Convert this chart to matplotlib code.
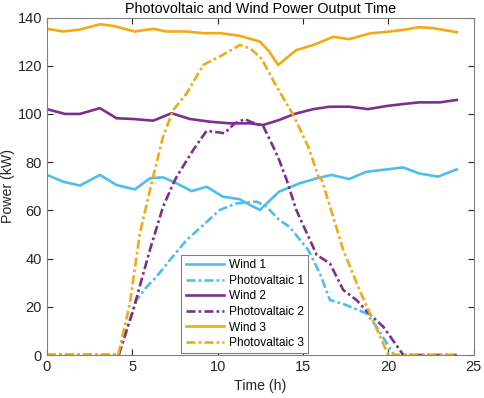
import numpy as np
import matplotlib
matplotlib.use("Agg")
import matplotlib.pyplot as plt

plt.rcParams['font.family'] = ['Liberation Sans', 'DejaVu Sans']

# hours / kW
t_w3 = [0, 0.95, 1.93, 3.1, 3.88, 5.15, 6.22, 7.0, 8.18, 9.15, 10.2, 11.3, 12.47, 13.0, 13.54,
        14.6, 15.6, 16.77, 17.7, 18.9, 20.1, 21.0, 21.8, 22.6, 24]
wind3 = [135.3, 134.2, 135.0, 137.2, 136.5, 134.2, 135.3, 134.2, 134.2, 133.5, 133.5, 132.4, 130.0, 126.0, 120.3,
         126.5, 128.6, 132.0, 131.0, 133.4, 134.2, 135.0, 136.0, 135.6, 133.9]

t_w2 = [0, 1.05, 1.93, 3.1, 4.08, 5.05, 6.22, 7.3, 8.37, 9.54, 10.7, 11.9, 12.66, 13.6, 14.5,
        15.6, 16.57, 17.7, 18.8, 19.9, 20.86, 21.8, 23.0, 24]
wind2 = [102.0, 100.0, 100.0, 102.4, 98.2, 97.9, 97.2, 100.3, 97.9, 96.8, 96.1, 96.1, 95.4, 97.5, 100.0,
         102.0, 103.0, 103.0, 102.0, 103.3, 104.1, 104.8, 104.8, 105.8]

t_w1 = [0, 0.95, 1.93, 3.1, 4.08, 5.15, 6.03, 6.8, 7.6, 8.47, 9.35, 10.3, 11.3, 11.9, 12.47,
        13.6, 14.8, 15.8, 16.66, 17.7, 18.7, 19.9, 20.86, 21.8, 22.9, 24]
wind1 = [74.7, 71.9, 70.3, 74.7, 70.5, 68.7, 73.3, 73.7, 71.2, 68.0, 69.8, 65.7, 64.6, 62.2, 60.2,
         67.8, 71.2, 73.3, 74.7, 73.0, 76.0, 77.0, 77.8, 75.3, 74.0, 77.0]

t_pv1 = [0, 4.2, 5.25, 5.84, 6.42, 7.2, 8.18, 9.15, 10.13, 11.1, 12.28, 12.86, 13.6, 14.2,
         15.3, 15.98, 16.57, 17.35, 18.7, 19.3, 20.2, 20.35, 24]
pv1 = [0, 0, 22.8, 28.3, 32.5, 39.4, 47.7, 53.9, 60.2, 62.9, 63.6, 61.5, 56.0, 53.2,
       43.6, 33.9, 22.8, 21.2, 17.3, 11.7, 1.4, 0, 0]

t_pv2 = [0, 4.2, 5.05, 6.03, 6.8, 7.4, 7.6, 8.56, 9.35, 10.4, 11.0, 11.6, 11.9, 12.66, 13.25,
         13.6, 14.04, 14.6, 15.8, 16.57, 17.35, 18.13, 18.8, 19.7, 20.77, 20.85, 24]
pv2 = [0, 0, 18.7, 43.6, 61.5, 71.2, 74.0, 85.0, 93.0, 92.0, 96.1, 97.9, 96.8, 95.0, 86.4,
       80.9, 72.6, 60.2, 41.5, 38.0, 27.0, 22.8, 17.6, 11.7, 1.0, 0, 0]

t_pv3 = [0, 4.17, 4.86, 5.44, 6.22, 6.8, 7.4, 8.18, 9.15, 10.3, 11.3, 11.9, 12.56, 13.45,
         14.42, 15.3, 15.9, 16.1, 17.35, 18.3, 19.0, 19.9, 20.0, 24]
pv3 = [0, 0, 21.4, 50.5, 74.0, 90.6, 101.7, 108.5, 120.3, 124.5, 128.6, 127.2, 123.0, 111.3,
       99.6, 86.4, 74.0, 72.6, 43.6, 27.0, 15.9, 1.4, 0, 0]

c_blue = '#4DBEEE'
c_purple = '#7E2F8E'
c_orange = '#F0AA14'
dd = (3.4, 1.2, 1.0, 1.2)

fig = plt.figure(figsize=(4.84, 3.98), dpi=100)
ax = fig.add_axes([0.097, 0.108, 0.882, 0.848])

ax.plot(t_w1, wind1, color=c_blue, lw=1.9, label='Wind 1')
ax.plot(t_pv1, pv1, color=c_blue, lw=1.9, dashes=dd, label='Photovaltaic 1')
ax.plot(t_w2, wind2, color=c_purple, lw=1.9, label='Wind 2')
ax.plot(t_pv2, pv2, color=c_purple, lw=1.9, dashes=dd, label='Photovaltaic 2')
ax.plot(t_w3, wind3, color=c_orange, lw=1.9, label='Wind 3')
ax.plot(t_pv3, pv3, color=c_orange, lw=1.9, dashes=dd, label='Photovaltaic 3')

ax.set_xlim(0, 25)
ax.set_ylim(0, 140)
ax.set_xticks([0, 5, 10, 15, 20, 25])
ax.set_yticks([0, 20, 40, 60, 80, 100, 120, 140])
ax.tick_params(direction='in', top=True, right=True, labelsize=10.5, colors='#262626', length=4)
for s in ax.spines.values():
    s.set_color('#808080')
    s.set_linewidth(0.8)

ax.set_xlabel('Time (h)', fontsize=10.2, color='#262626')
ax.set_ylabel('Power (kW)', fontsize=10.2, color='#262626')
ax.yaxis.set_label_coords(-0.074, 0.5)
ax.set_title('Photovoltaic and Wind Power Output Time', fontsize=10.4, color='#000000', pad=3)

leg = ax.legend(loc='lower left', bbox_to_anchor=(0.315, 0.005), fontsize=8.6, fancybox=False,
                framealpha=1, edgecolor='#808080', handlelength=3.2, labelspacing=0.3,
                borderpad=0.35, handletextpad=0.4, borderaxespad=0)
leg.get_frame().set_linewidth(0.8)

fig.savefig('out.png', dpi=100)
